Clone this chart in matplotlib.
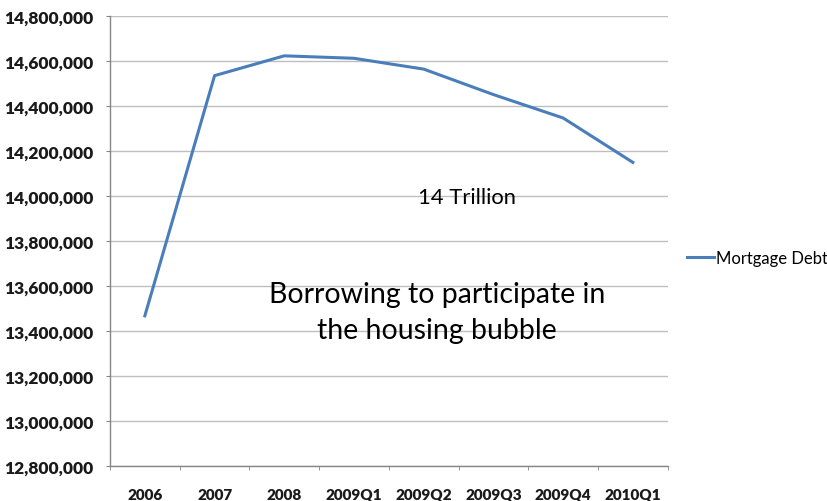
import matplotlib
matplotlib.use("Agg")
import matplotlib.pyplot as plt
from matplotlib.ticker import FuncFormatter, FixedLocator
import numpy as np

categories = ["2006", "2007", "2008", "2009Q1", "2009Q2", "2009Q3", "2009Q4", "2010Q1"]
mortgage_debt = [13468000, 14534000, 14622000, 14611000, 14563000, 14450000, 14346000, 14149000]
y_ticks = list(range(12800000, 14800001, 200000))
series_name = "Mortgage Debt"

plt.rcParams['font.family'] = ['Lato', 'DejaVu Sans']

fig = plt.figure(figsize=(8.27, 5.02), dpi=100)
ax = fig.add_axes([0.1330, 0.0691, 0.8074 - 0.1330, 0.9667 - 0.0691])

x = np.arange(len(categories))
ax.plot(x, mortgage_debt, color="#4A7EBB", linewidth=2.2, solid_joinstyle="round", zorder=3)

ax.set_xlim(-0.5, len(categories) - 0.5)
ax.set_ylim(y_ticks[0], y_ticks[-1])

ax.yaxis.set_major_locator(FixedLocator(y_ticks))
ax.yaxis.set_major_formatter(FuncFormatter(lambda v, p: f"{int(round(v)):,}"))
ax.grid(axis="y", color="#BEBEBE", linewidth=1.0, zorder=0)
ax.set_axisbelow(True)

ax.set_xticks(x)
ax.set_xticklabels(categories, fontweight="heavy", fontsize=11, color="#1a1a1a")
ax.tick_params(axis="x", which="major", length=0, pad=15.5)
ax.set_xticks(np.arange(-0.5, len(categories), 1.0), minor=True)
ax.tick_params(axis="x", which="minor", length=3, color="#868686", direction="out")

ax.tick_params(axis="y", length=3, color="#868686", direction="out", pad=9)
for lbl in ax.get_yticklabels():
    lbl.set_fontweight("heavy")
    lbl.set_fontsize(12.5)
    lbl.set_color("#1a1a1a")

for side in ["top", "right"]:
    ax.spines[side].set_visible(False)
for side in ["left", "bottom"]:
    ax.spines[side].set_color("#868686")
    ax.spines[side].set_linewidth(1.0)

ax.text(0.64, 0.598, "14 Trillion", transform=ax.transAxes, ha="center", va="center",
        fontsize=15.8, color="#000000")
ax.text(0.586, 0.342, "Borrowing to participate in\nthe housing bubble", transform=ax.transAxes,
        ha="center", va="center", fontsize=20.5, color="#000000", linespacing=1.45)

leg = ax.legend([series_name], loc="center left", bbox_to_anchor=(1.0346, 0.462), frameon=False,
                handlelength=1.6, handletextpad=0.12, fontsize=12, borderaxespad=0, borderpad=0)
for line in leg.get_lines():
    line.set_linewidth(2.2)

fig.savefig("out.png", dpi=100)
